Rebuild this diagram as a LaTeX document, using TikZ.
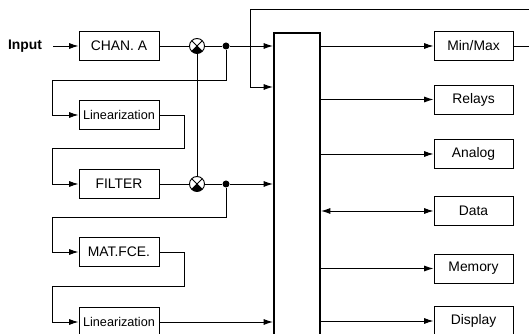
\documentclass[tikz,border=0pt]{standalone}
\usepackage{fontspec}
\setmainfont{Liberation Sans}
\usetikzlibrary{arrows.meta}

\begin{document}
\begin{tikzpicture}[
    x=0.75pt, y=-0.75pt,
    line width=0.7pt,
    >={Latex[length=7pt, width=4.5pt]},
    block/.style={draw, minimum width=60pt, minimum height=21.75pt, inner sep=0pt,
        font=\fontsize{10.4}{12}\selectfont},
    smallBlock/.style={block, font=\fontsize{9.5}{11}\selectfont},
    outWidth/.style={minimum width=59.25pt},
    mul/.style={circle, draw, minimum size=11.25pt, inner sep=0pt,
        path picture={
            \draw (path picture bounding box.north west) -- (path picture bounding box.south east)
                  (path picture bounding box.north east) -- (path picture bounding box.south west);
            \fill (path picture bounding box.center) -- (path picture bounding box.south west)
                  -- (path picture bounding box.south east) -- cycle;
        }},
    junction/.style={circle, fill, minimum size=5.25pt, inner sep=0pt},
    every node/.style={
        text centered,
        }
        ]
    \useasboundingbox (0,0) rectangle (529,334);
    \clip (0,0) rectangle (529,334);

    \node[font=\bfseries\fontsize{10.4}{12}\selectfont, inner sep=0pt] (input) at (25,46) {Input};
    \node[block] (chanA) at (119,46) {CHAN. A};
    \node[smallBlock] (lin1) at (119,115) {Linearization};
    \node[block] (filter) at (119,184) {FILTER};
    \node[block] (matfce) at (119,252) {MAT.FCE.};
    \node[smallBlock] (lin2) at (119,322) {Linearization};

    \node[mul] (mul1) at (197,46) {};
    \node[mul] (mul2) at (197,184) {};
    \node[junction] (dot1) at (226,46) {};
    \node[junction] (dot2) at (226,184) {};

    \node[draw, line width=1.5pt, minimum width=34.5pt, minimum height=240pt, anchor=north west] (bus) at (273,32) {};

    \node[block, outWidth] (minmax) at (473.5,46) {Min/Max};
    \node[block, outWidth] (relays) at (473.5,99.5) {Relays};
    \node[block, outWidth] (analog) at (473.5,154) {Analog};
    \node[block, outWidth] (data) at (473.5,211) {Data};
    \node[block, outWidth] (memory) at (473.5,268.5) {Memory};
    \node[block, outWidth] (display) at (473.5,321) {Display};

    \coordinate (loopR) at (533,9);
    \coordinate (loopL) at (250,9);
    \coordinate (fbIn) at (273,87);

    \draw[->] ([xshift=8pt]input.east) -- (chanA.west);
    \draw (chanA.east) -- (mul1) -- (dot1);
    \draw[->] (dot1) -- (dot1 -| bus.west);
    \draw[->] (dot1) |- (52,80) |- (lin1.west);
    \draw[->] (lin1.east) -| (184,148) -- (52,148) |- (filter.west);
    \draw (mul1) -- (mul2);
    \draw (filter.east) -- (mul2) -- (dot2);
    \draw[->] (dot2) -- (dot2 -| bus.west);
    \draw[->] (dot2) |- (52,217) |- (matfce.west);
    \draw[->] (matfce.east) -| (184,286) -- (52,286) |- (lin2.west);
    \draw[->] (lin2.east) -- (lin2 -| bus.west);

    \draw[->] (minmax.east) -| (loopR) -- (loopL) |- (fbIn);

    \draw[->] (bus.east |- minmax) -- (minmax.west);
    \draw[->] (bus.east |- relays) -- (relays.west);
    \draw[->] (bus.east |- analog) -- (analog.west);
    \draw[<->] (bus.east |- data) -- (data.west);
    \draw[->] (bus.east |- memory) -- (memory.west);
    \draw[->] (bus.east |- display) -- (display.west);
\end{tikzpicture}
\end{document}
